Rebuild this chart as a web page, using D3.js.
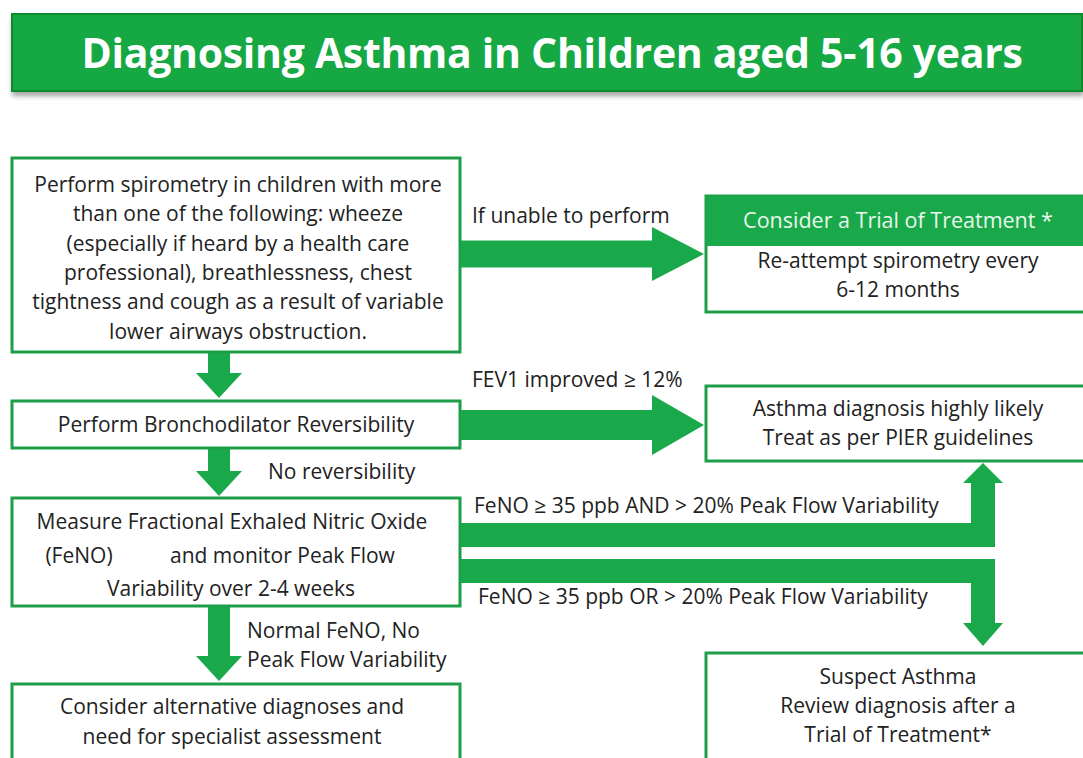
<!DOCTYPE html>
<html>
<head>
<meta charset="utf-8">
<title>Diagnosing Asthma in Children aged 5-16 years</title>
<script src="https://d3js.org/d3.v7.min.js"></script>
<style>
  body { margin: 0; background: #fff; }
  svg text { font-family: "Open Sans", Lato, sans-serif; }
</style>
</head>
<body>
<script>
// ---- text content ----
const titleText = "Diagnosing Asthma in Children aged 5-16 years";

const spiroLines = ["Perform spirometry in children with more",
                    "than one of the following: wheeze",
                    "(especially if heard by a health care",
                    "professional), breathlessness, chest",
                    "tightness and cough as a result of variable",
                    "lower airways obstruction."];
const bronchoLines = ["Perform Bronchodilator Reversibility"];
const fenoLines = ["Measure Fractional Exhaled Nitric Oxide",
                   "(FeNO)", "and monitor Peak Flow",
                   "Variability over 2-4 weeks"];
const altLines = ["Consider alternative diagnoses and",
                  "need for specialist assessment"];
const trialHeader = "Consider  a Trial of Treatment *";
const trialLines = ["Re-attempt spirometry every", "6-12 months"];
const likelyLines = ["Asthma diagnosis highly likely", "Treat as per PIER guidelines"];
const suspectLines = ["Suspect Asthma", "Review diagnosis after a", "Trial of Treatment*"];

const arrowLabels = ["If unable to perform", "FEV1 improved \u2265 12%", "No reversibility",
                     "FeNO \u2265 35 ppb AND > 20% Peak Flow Variability",
                     "FeNO \u2265 35 ppb OR > 20% Peak Flow Variability",
                     "Normal FeNO, No", "Peak Flow Variability"];

// ---- layout ----
const W = 1083, H = 758;
const green = "#19a94b", border = "#1f9e4a", ink = "#222";
const fs = 21;

const svg = d3.select("body").append("svg")
    .attr("width", W).attr("height", H);

const defs = svg.append("defs");
const f = defs.append("filter").attr("id", "shadow")
    .attr("x", "-5%").attr("y", "-20%").attr("width", "110%").attr("height", "160%");
f.append("feDropShadow").attr("dx", 1).attr("dy", 4).attr("stdDeviation", 2.5)
    .attr("flood-color", "#000").attr("flood-opacity", 0.35);

// title bar
svg.append("rect")
    .attr("x", 12).attr("y", 14).attr("width", 1070).attr("height", 77)
    .attr("fill", "#17a843").attr("stroke", "#0d8a2f").attr("stroke-width", 2)
    .attr("filter", "url(#shadow)");
svg.append("text")
    .attr("x", 552).attr("y", 68).attr("text-anchor", "middle")
    .attr("fill", "#fff").attr("font-weight", 700).attr("font-size", 41)
    .attr("letter-spacing", -0.3)
    .text(titleText);

// boxes
function box(x, y, w, h) {
  svg.append("rect").attr("x", x).attr("y", y).attr("width", w).attr("height", h)
      .attr("fill", "#fff").attr("stroke", border).attr("stroke-width", 3);
}
function lines(arr, cx, y0, dy, opts = {}) {
  svg.append("text")
      .attr("x", cx).attr("y", y0)
      .attr("text-anchor", opts.anchor || "middle")
      .attr("font-size", opts.size || fs)
      .attr("fill", opts.fill || ink)
      .selectAll("tspan").data(arr).join("tspan")
      .attr("x", cx).attr("dy", (d, i) => i ? dy : 0)
      .text(d => d);
}

box(12, 158, 448, 194);
lines(spiroLines, 238, 192, 29.3);

box(12, 401, 448, 47);
lines(bronchoLines, 236, 432, 29);

box(12, 498, 448, 108);
lines([fenoLines[0]], 232, 529, 29);
lines([fenoLines[1]], 79, 563, 29);
lines([fenoLines[2]], 170, 563, 29, {anchor: "start"});
lines([fenoLines[3]], 231, 596, 29);

box(12, 684, 448, 80);
lines(altLines, 232, 714, 29.5);

// trial box with green header
box(706, 196, 380, 116);
svg.append("rect").attr("x", 706).attr("y", 196).attr("width", 380).attr("height", 50)
    .attr("fill", green);
lines([trialHeader], 898, 228, 29, {fill: "#e9f7ec", size: 21.5});
lines(trialLines, 898, 268, 29);

box(706, 386, 380, 75);
lines(likelyLines, 898, 416, 29);

box(706, 653, 380, 110);
lines(suspectLines, 898, 684, 29);

// arrows
const arrows = svg.append("g").attr("fill", green);
function hArrow(x0, x1, cy, sh, hh, hl) {
  const xb = x1 - hl;
  arrows.append("path").attr("d", d3.line()([
    [x0, cy - sh], [xb, cy - sh], [xb, cy - hh], [x1, cy], [xb, cy + hh],
    [xb, cy + sh], [x0, cy + sh]]) + "Z");
}
function vArrow(cx, y0, y1, sw, hw, hl) {
  const yb = y1 - hl;
  arrows.append("path").attr("d", d3.line()([
    [cx - sw, y0], [cx - sw, yb], [cx - hw, yb], [cx, y1], [cx + hw, yb],
    [cx + sw, yb], [cx + sw, y0]]) + "Z");
}
hArrow(461, 704, 254, 13.5, 27, 52);
hArrow(461, 704, 425, 15, 30, 52);
vArrow(219, 353, 398, 11, 23, 25);
vArrow(219, 449, 496, 11, 23, 25);
vArrow(219, 607, 681, 11, 23, 25);

// elbow arrows from FeNO box
arrows.append("path").attr("d", d3.line()([
  [461, 523], [971, 523], [971, 483], [963, 483], [983, 463], [1003, 483],
  [995, 483], [995, 547], [461, 547]]) + "Z");
arrows.append("path").attr("d", d3.line()([
  [461, 559], [995, 559], [995, 623], [1003, 623], [983, 646], [963, 623],
  [971, 623], [971, 583], [461, 583]]) + "Z");

// arrow labels
const lab = [[472, 223, "start"], [472, 387, "start"], [268, 479, "start"],
             [474, 513, "start"], [478, 604, "start"], [247, 638, "start"], [247, 667, "start"]];
lab.forEach((p, i) => lines([arrowLabels[i]], p[0], p[1], 0, {anchor: p[2]}));
</script>
</body>
</html>
